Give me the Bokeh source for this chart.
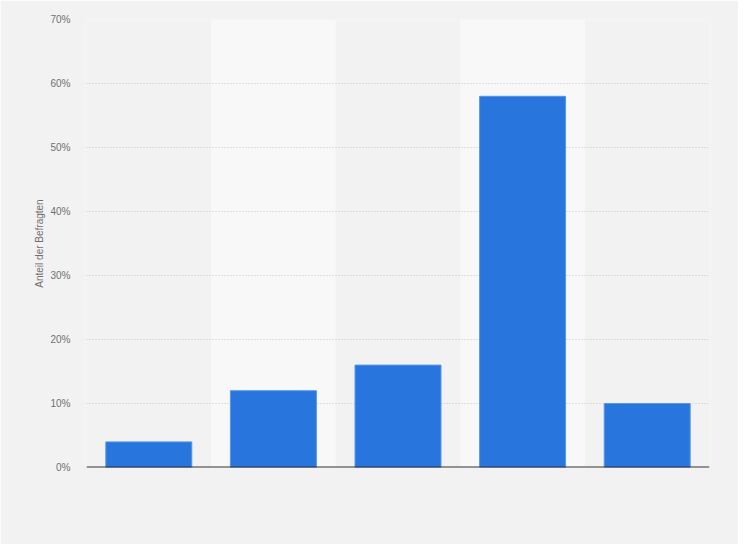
from bokeh.plotting import figure
from bokeh.models import FactorRange, Range1d, Span, ColumnDataSource, FixedTicker
from bokeh.embed import file_html
from bokeh.resources import INLINE

categories = ["Kategorie 1", "Kategorie 2", "Kategorie 3", "Kategorie 4", "Kategorie 5"]
values = [4, 12, 16, 58, 10]
y_ticks = [0, 10, 20, 30, 40, 50, 60, 70]
y_label = "Anteil der Befragten"

bg = "#f2f2f2"
p = figure(width=738, height=544, x_range=FactorRange(*categories, range_padding=0),
           y_range=Range1d(0, 70), output_backend="svg", toolbar_location=None)
p.background_fill_color = bg
p.border_fill_color = bg
p.outline_line_color = None
p.min_border_left = 86
p.min_border_right = 29
p.min_border_top = 19
p.min_border_bottom = 77

# alternating light bands
band_src = ColumnDataSource(dict(x=categories[1::2], top=[y_ticks[-1]] * len(categories[1::2])))
p.vbar(x="x", top="top", bottom=0, width=1, source=band_src, fill_color="#f8f8f8",
       line_color=None, level="image")

src = ColumnDataSource(dict(x=categories, top=values))
p.vbar(x="x", top="top", width=0.69, source=src, fill_color="#2876dd",
       line_color="#5797e8", line_width=1)

p.xgrid.grid_line_color = None
p.ygrid.grid_line_color = "#c8c8c8"
p.ygrid.grid_line_dash = "1 2"
p.ygrid.grid_line_width = 1
p.ygrid.ticker = FixedTicker(ticks=y_ticks)

p.xaxis.visible = False
p.add_layout(Span(location=0, dimension="width", line_color="#333333", line_width=2))

p.yaxis.ticker = FixedTicker(ticks=y_ticks)
p.yaxis.major_label_overrides = {t: f"{t}%" for t in y_ticks}
p.yaxis.axis_line_color = None
p.yaxis.major_tick_line_color = None
p.yaxis.minor_tick_line_color = None
p.yaxis.major_tick_out = 0
p.yaxis.major_tick_in = 0
p.yaxis.minor_tick_out = 0
p.yaxis.major_label_standoff = 16
p.yaxis.major_label_text_font = "Liberation Sans"
p.yaxis.major_label_text_font_size = "10px"
p.yaxis.major_label_text_color = "#707070"
p.yaxis.axis_label = y_label
p.yaxis.axis_label_text_font = "Liberation Sans"
p.yaxis.axis_label_text_font_size = "10px"
p.yaxis.axis_label_text_font_style = "normal"
p.yaxis.axis_label_text_color = "#707070"
p.yaxis.axis_label_standoff = 2

open("out.html", "w").write(file_html(p, INLINE))
